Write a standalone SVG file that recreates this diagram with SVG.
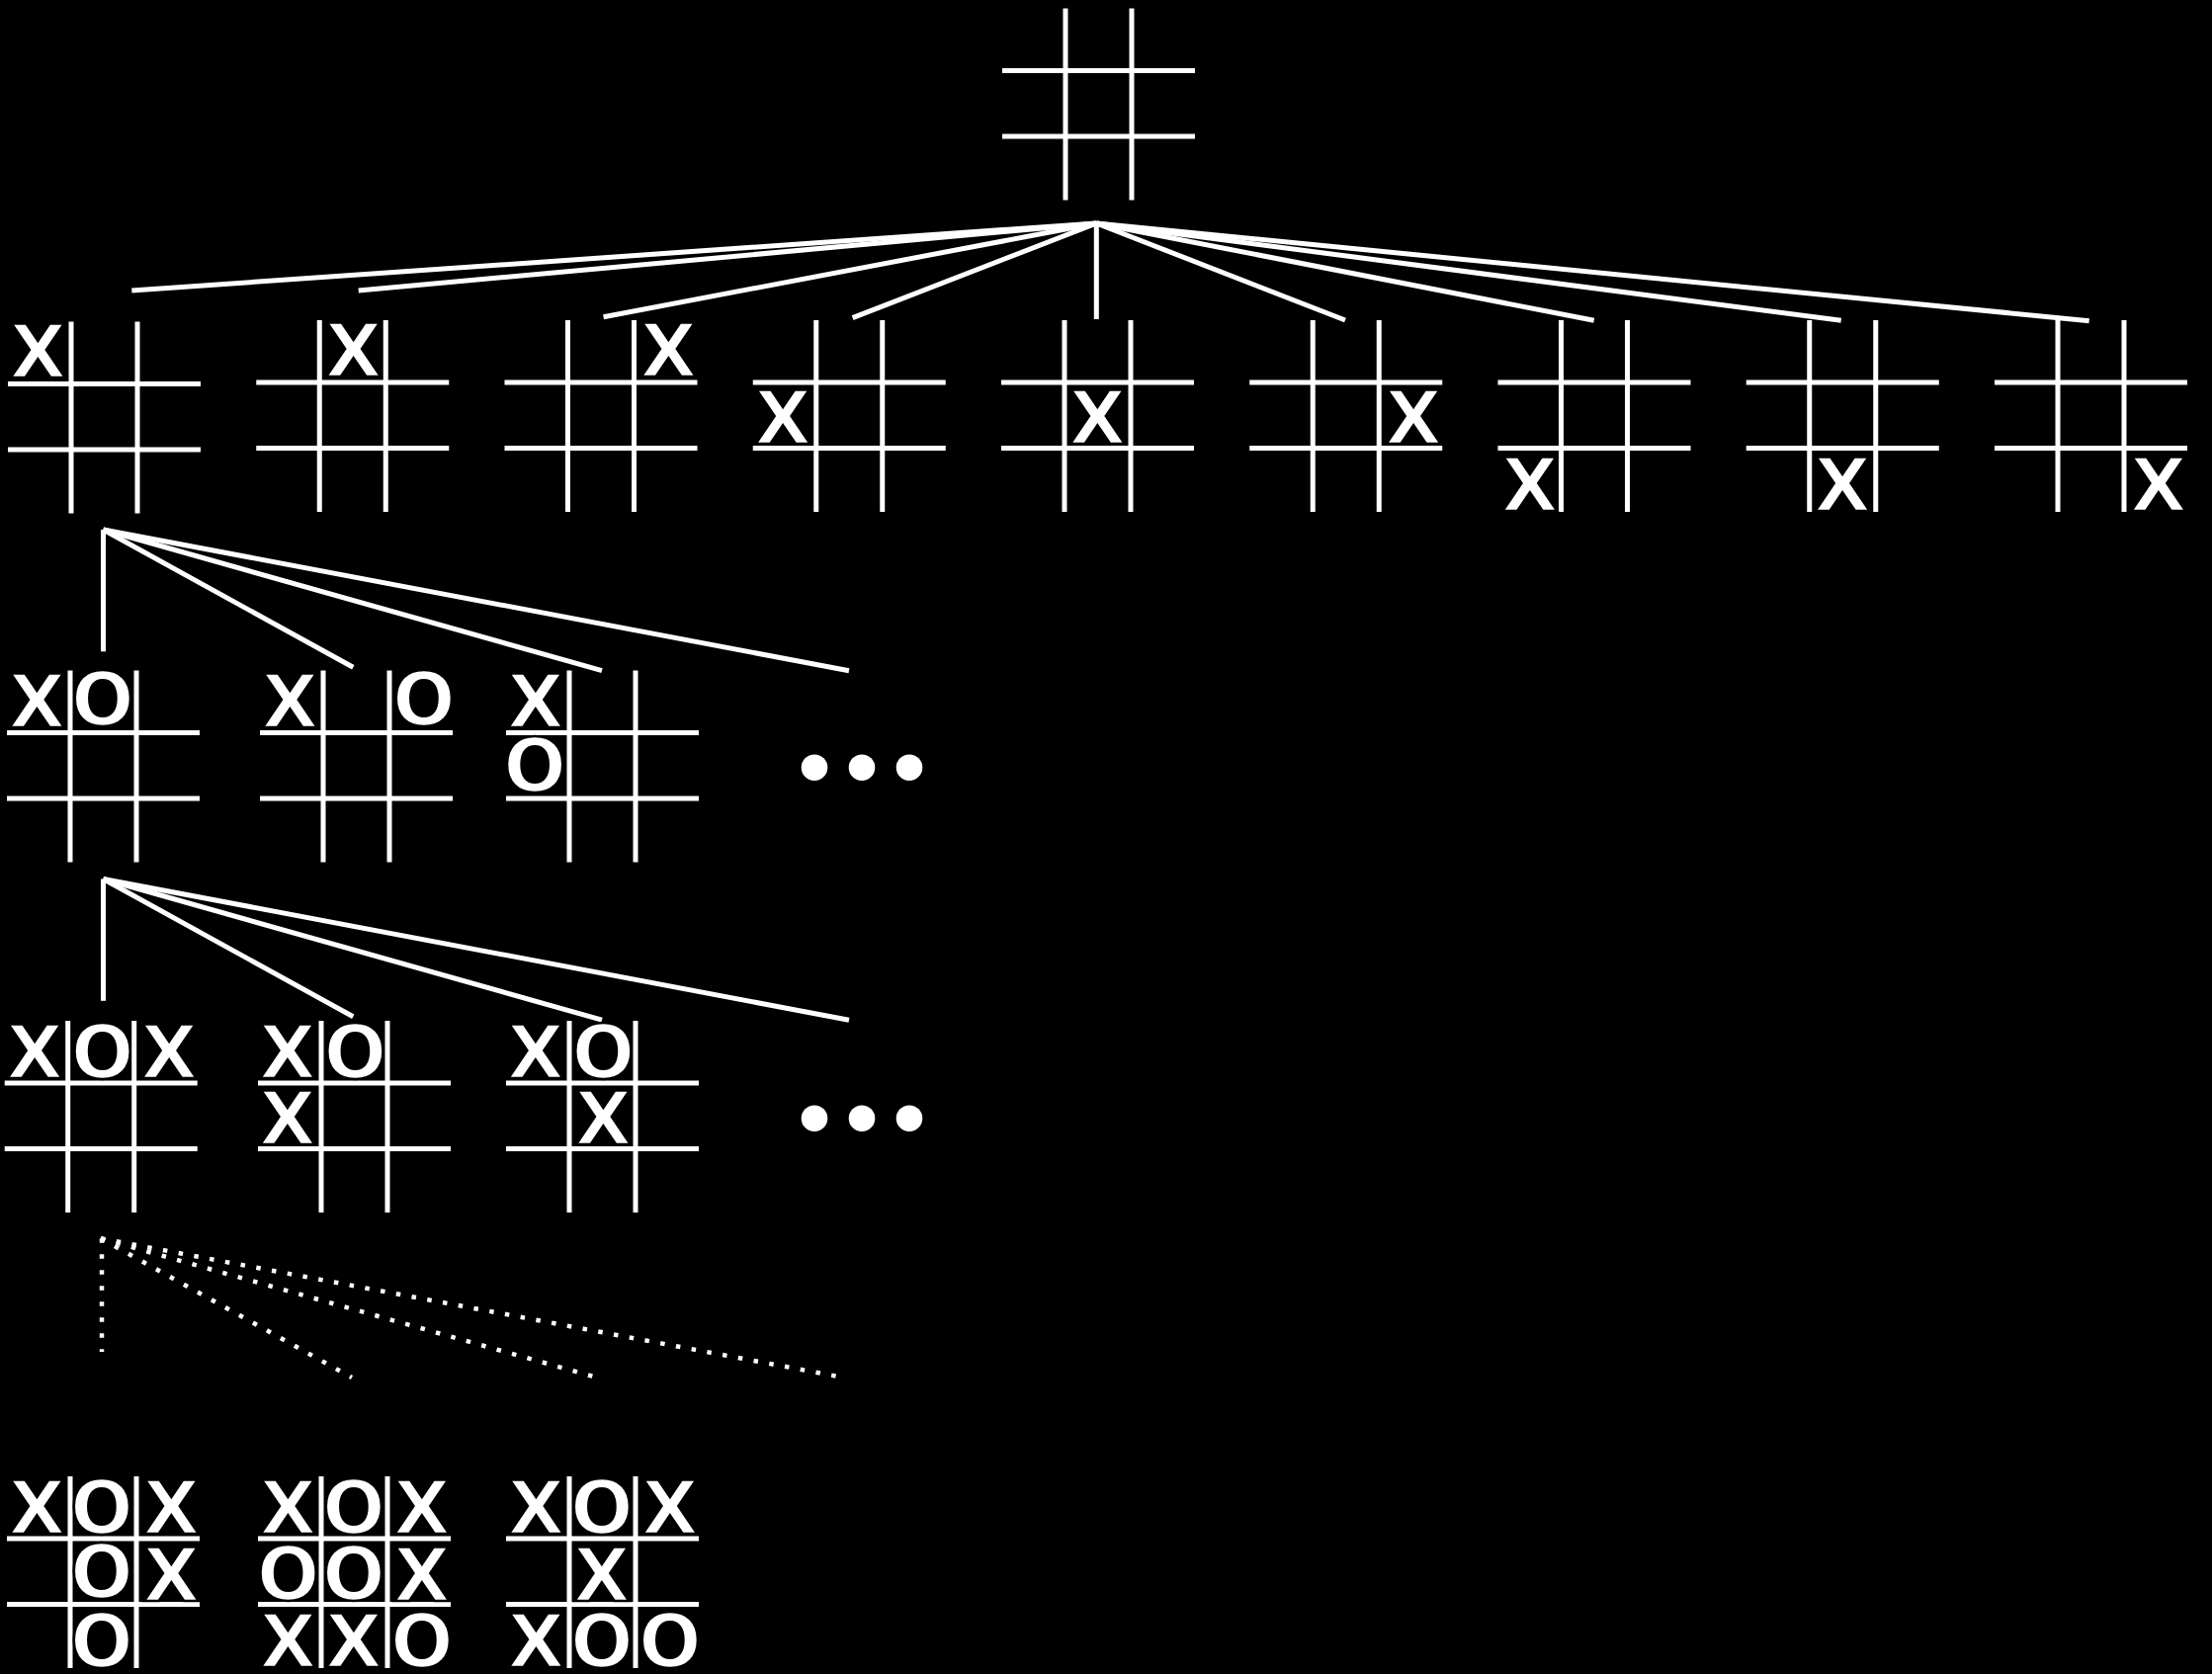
<svg xmlns="http://www.w3.org/2000/svg" xmlns:xlink="http://www.w3.org/1999/xlink" width="2238" height="1694" viewBox="0 0 2238 1694">
<style>
.g line{stroke:#fff;stroke-width:5;fill:none}
.m{fill:#fff;stroke:#000;stroke-width:2.6;font-family:"DejaVu Sans",sans-serif;font-weight:bold;font-size:75px;text-anchor:middle}
.c line{stroke:#fff;stroke-width:5}
.d line{stroke:#fff;stroke-width:4.5;stroke-dasharray:4.5 11.5}
.dot{fill:#fff}
</style>
<defs>
<g id="grid" class="g">
<line x1="0" y1="63" x2="195" y2="63"/>
<line x1="0" y1="129.5" x2="195" y2="129.5"/>
<line x1="64" y1="0" x2="64" y2="194"/>
<line x1="131" y1="0" x2="131" y2="194"/>
</g>
</defs>
<rect x="0" y="0" width="2238" height="1694" fill="#000"/>

<g id="connectors">
<g class="c">
<line x1="1109.3" y1="226" x2="133.3" y2="294"/>
<line x1="1109.3" y1="226" x2="362.7" y2="294"/>
<line x1="1109.3" y1="226" x2="610.6" y2="320.7"/>
<line x1="1109.3" y1="226" x2="862.6" y2="321.7"/>
<line x1="1109.3" y1="226" x2="1109.3" y2="323"/>
<line x1="1109.3" y1="226" x2="1361" y2="324"/>
<line x1="1109.3" y1="226" x2="1612.7" y2="324.3"/>
<line x1="1109.3" y1="226" x2="1862.7" y2="324.3"/>
<line x1="1109.3" y1="226" x2="2113.7" y2="324.7"/>

<line x1="104.5" y1="536" x2="104.5" y2="659.3"/>
<line x1="104.5" y1="536" x2="357.3" y2="675.3"/>
<line x1="104.5" y1="536" x2="609" y2="678.7"/>
<line x1="104.5" y1="536" x2="859" y2="678.7"/>

<line x1="104.5" y1="889.5" x2="104.5" y2="1012.8"/>
<line x1="104.5" y1="889.5" x2="357.3" y2="1028.8"/>
<line x1="104.5" y1="889.5" x2="609" y2="1032.2"/>
<line x1="104.5" y1="889.5" x2="859" y2="1032.2"/>
</g>
<g class="d">
<line x1="103" y1="1253.3" x2="103" y2="1368"/>
<line x1="102" y1="1253.3" x2="356" y2="1394"/>
<line x1="102" y1="1253.3" x2="604" y2="1394"/>
<line x1="102" y1="1253.3" x2="850" y2="1393.3"/>
</g>
</g>

<g id="root" transform="translate(1014,8.5)"><use xlink:href="#grid" href="#grid"/></g>

<g id="l1-1" transform="translate(8,325.5)"><use href="#grid"/><text class="m" x="30.5" y="56.8">X</text></g>
<g id="l1-2" transform="translate(259.25,324)"><use href="#grid"/><text class="m" x="98.5" y="57.3">X</text></g>
<g id="l1-3" transform="translate(510.5,324)"><use href="#grid"/><text class="m" x="166" y="57.3">X</text></g>
<g id="l1-4" transform="translate(761.75,324)"><use href="#grid"/><text class="m" x="30.5" y="124.8">X</text></g>
<g id="l1-5" transform="translate(1013,324)"><use href="#grid"/><text class="m" x="97.5" y="124.8">X</text></g>
<g id="l1-6" transform="translate(1264.25,324)"><use href="#grid"/><text class="m" x="166" y="124.8">X</text></g>
<g id="l1-7" transform="translate(1515.5,324)"><use href="#grid"/><text class="m" x="32.5" y="193">X</text></g>
<g id="l1-8" transform="translate(1766.75,324)"><use href="#grid"/><text class="m" x="97.5" y="193">X</text></g>
<g id="l1-9" transform="translate(2018,324)"><use href="#grid"/><text class="m" x="166" y="193">X</text></g>

<g id="l2-1" transform="translate(7,678.5)"><use href="#grid"/><text class="m" x="30.5" y="57.3">X</text><text class="m" x="97" y="55.5">O</text></g>
<g id="l2-2" transform="translate(263,678.5)"><use href="#grid"/><text class="m" x="30.5" y="57.3">X</text><text class="m" x="166" y="55.5">O</text></g>
<g id="l2-3" transform="translate(512,678.5)"><use href="#grid"/><text class="m" x="30" y="57.3">X</text><text class="m" x="29" y="122">O</text></g>
<g id="l2-more"><circle class="dot" cx="824" cy="776.7" r="13.3"/><circle class="dot" cx="872" cy="776.7" r="13.3"/><circle class="dot" cx="920" cy="776.7" r="13.3"/></g>

<g id="l3-1" transform="translate(4.7,1033)"><use href="#grid"/><text class="m" x="30.5" y="57.6">X</text><text class="m" x="99" y="57.6">O</text><text class="m" x="166.5" y="57.6">X</text></g>
<g id="l3-2" transform="translate(261,1033)"><use href="#grid"/><text class="m" x="30" y="57.6">X</text><text class="m" x="98.5" y="57.6">O</text><text class="m" x="30" y="125">X</text></g>
<g id="l3-3" transform="translate(512,1033)"><use href="#grid"/><text class="m" x="30" y="57.6">X</text><text class="m" x="98.5" y="57.6">O</text><text class="m" x="98.5" y="125">X</text></g>
<g id="l3-more"><circle class="dot" cx="824" cy="1131.7" r="13.3"/><circle class="dot" cx="872" cy="1131.7" r="13.3"/><circle class="dot" cx="920" cy="1131.7" r="13.3"/></g>

<g id="l4-1" transform="translate(7,1494)"><use href="#grid"/>
<text class="m" x="30.5" y="57.8">X</text><text class="m" x="96" y="57.8">O</text><text class="m" x="166.3" y="57.8">X</text>
<text class="m" x="96" y="122.5">O</text><text class="m" x="166.3" y="125.8">X</text>
<text class="m" x="96" y="192.5">O</text></g>
<g id="l4-2" transform="translate(261,1494)"><use href="#grid"/>
<text class="m" x="30.5" y="57.8">X</text><text class="m" x="97" y="57.8">O</text><text class="m" x="166" y="57.8">X</text>
<text class="m" x="30.5" y="124.5">O</text><text class="m" x="97" y="124.5">O</text><text class="m" x="166" y="125.8">X</text>
<text class="m" x="30.5" y="193">X</text><text class="m" x="97" y="193">X</text><text class="m" x="166" y="192.5">O</text></g>
<g id="l4-3" transform="translate(512,1494)"><use href="#grid"/>
<text class="m" x="30.5" y="57.8">X</text><text class="m" x="97" y="57.8">O</text><text class="m" x="166" y="57.8">X</text>
<text class="m" x="97" y="125.8">X</text>
<text class="m" x="30.5" y="193">X</text><text class="m" x="97" y="192.5">O</text><text class="m" x="166" y="192.5">O</text></g>
</svg>
